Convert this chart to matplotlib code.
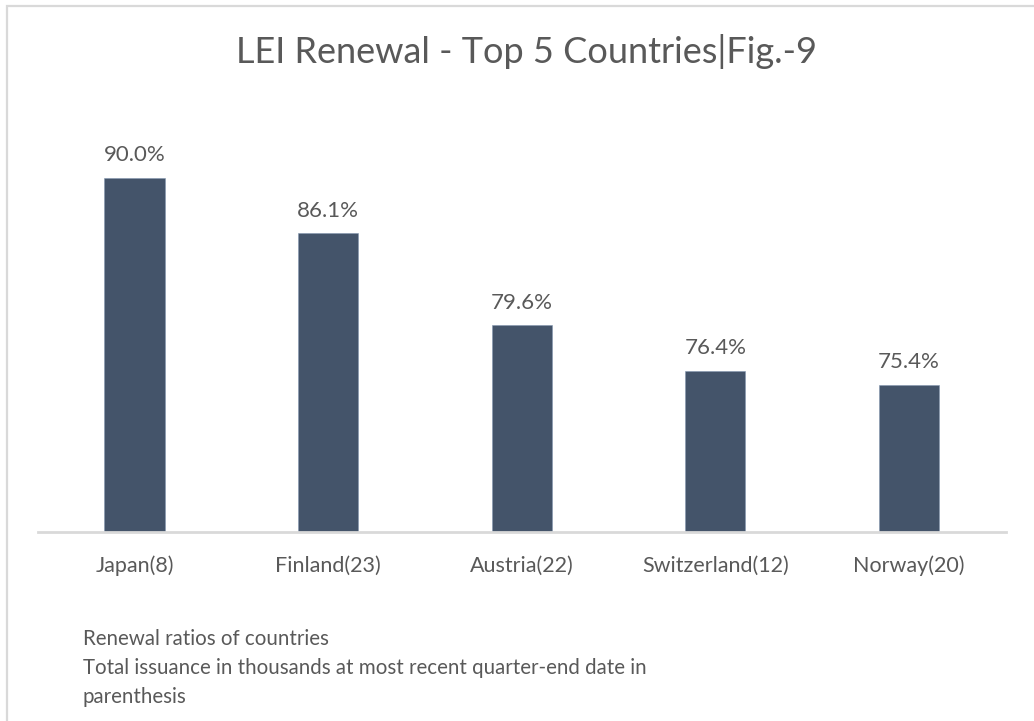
import matplotlib.pyplot as plt
from matplotlib.patches import Rectangle

# --- data ---
countries = ["Japan", "Finland", "Austria", "Switzerland", "Norway"]
issuance = [8, 23, 22, 12, 20]
renewal_pct = [90.0, 86.1, 79.6, 76.4, 75.4]
title = "LEI Renewal - Top 5 Countries|Fig.-9"
notes = [
    "Renewal ratios of countries",
    "Total issuance in thousands at most recent quarter-end date in",
    "parenthesis",
]

BAR = "#44546A"
TXT = "#595959"
GRID = "#D9D9D9"

plt.rcParams["font.family"] = ["Lato", "DejaVu Sans"]

W, H = 1034, 721
fig = plt.figure(figsize=(W / 100, H / 100), dpi=100)
fig.patch.set_facecolor("white")

# chart frame (cut off on right and bottom like the screenshot)
fig.patches.append(Rectangle((7 / W, -0.2), 1.2, 1.2 - 6 / H,
                             transform=fig.transFigure, fill=False,
                             edgecolor=GRID, lw=1.6))

ax = fig.add_axes([37.7 / W, 1 - 532 / H, 968 / W, 425 / H])
x = range(len(countries))
ax.bar(x, renewal_pct, width=0.31, color=BAR, edgecolor="#8497B0", linewidth=0.4)
ax.set_ylim(65, 95)
ax.set_xlim(-0.5, len(countries) - 0.5)

for i, v in enumerate(renewal_pct):
    ax.annotate(f"{v:.1f}%", (i, v), xytext=(0, 9), textcoords="offset points",
                ha="center", va="bottom", fontsize=16, color=TXT)

ax.set_xticks(list(x))
ax.set_xticklabels([f"{c}({n})" for c, n in zip(countries, issuance)],
                   fontsize=15.5, color=TXT)
ax.tick_params(axis="x", length=0, pad=17)
ax.set_yticks([])
for s in ["top", "right", "left"]:
    ax.spines[s].set_visible(False)
ax.spines["bottom"].set_color(GRID)
ax.spines["bottom"].set_linewidth(2)

fig.text(527 / W, 1 - 63 / H, title, ha="center", va="baseline",
         fontsize=26, color=TXT)

for k, line in enumerate(notes):
    fig.text(83 / W, 1 - (645 + 29 * k) / H, line, ha="left", va="baseline",
             fontsize=14.8, color=TXT)

fig.savefig("out.png", dpi=100)
